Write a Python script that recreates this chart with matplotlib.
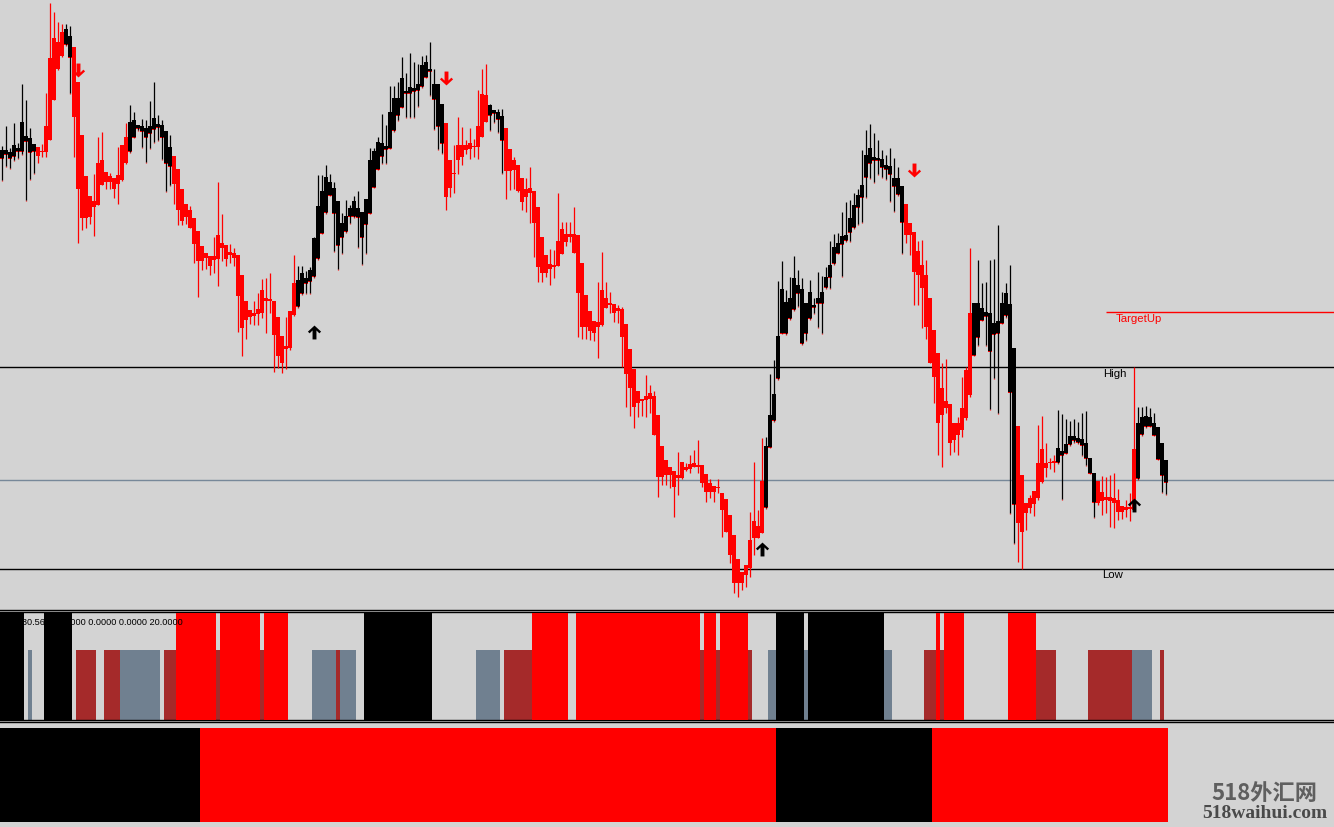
#%%
# Imports
import numpy as np
import matplotlib.pyplot as plt
from matplotlib.path import Path


#%%
# Candle data (price points, one value per bar)

body_hi = [460, 460, 458, 465, 462, 488, 474, 472, 466, 463,
           459, 484, 552, 572, 568, 578, 581, 574, 563, 528,
           475, 434, 414, 409, 447, 450, 438, 434, 432, 435,
           465, 473, 488, 490, 485, 484, 482, 484, 492, 486,
           485, 479, 463, 454, 441, 421, 406, 400, 392, 379,
           364, 357, 354, 354, 375, 367, 365, 358, 357, 355,
           335, 309, 300, 297, 301, 320, 312, 311, 309, 293,
           274, 264, 299, 327, 330, 337, 332, 340, 372, 404,
           419, 433, 428, 422, 409, 387, 394, 402, 409, 402,
           398, 411, 450, 459, 468, 467, 464, 498, 512, 512,
           532, 519, 523, 522, 526, 545, 548, 541, 526, 526,
           506, 487, 450, 437, 465, 465, 465, 467, 464, 484,
           516, 515, 505, 500, 498, 494, 482, 461, 450, 445,
           432, 421, 422, 419, 403, 373, 355, 346, 345, 369,
           381, 376, 376, 376, 375, 347, 315, 299, 289, 288,
           320, 312, 307, 306, 302, 301, 286, 261, 241, 219,
           211, 214, 217, 214, 195, 164, 150, 143, 139, 135,
           148, 143, 146, 147, 145, 145, 136, 127, 124, 123,
           117, 111, 95, 75, 51, 38, 45, 70, 89, 84,
           129, 164, 195, 216, 274, 321, 308, 312, 332, 325,
           321, 307, 318, 305, 312, 318, 333, 345, 363, 367,
           374, 375, 392, 405, 415, 425, 455, 462, 453, 452,
           451, 445, 444, 432, 432, 424, 406, 387, 378, 359,
           345, 335, 312, 280, 257, 222, 209, 206, 187, 187,
           202, 240, 297, 307, 307, 302, 298, 297, 287, 289,
           307, 317, 306, 262, 184, 135, 107, 112, 119, 147,
           161, 147, 148, 149, 162, 159, 166, 174, 174, 172,
           171, 167, 152, 137, 129, 118, 113, 113, 112, 110,
           104, 103, 103, 161, 187, 193, 194, 193, 187, 183,
           167, 150]

body_lo = [452, 456, 452, 454, 459, 459, 469, 458, 459, 454,
           458, 458, 470, 510, 541, 554, 566, 553, 493, 421,
           392, 392, 393, 403, 405, 425, 428, 428, 421, 426,
           430, 447, 459, 473, 482, 479, 473, 477, 481, 483,
           473, 447, 444, 426, 400, 389, 393, 382, 366, 349,
           349, 352, 344, 350, 351, 362, 351, 355, 352, 314,
           282, 290, 293, 294, 296, 297, 309, 309, 275, 254,
           247, 261, 262, 295, 304, 317, 327, 329, 334, 352,
           377, 398, 415, 397, 365, 373, 379, 394, 394, 393,
           373, 386, 397, 423, 441, 454, 461, 462, 480, 495,
           503, 517, 517, 519, 520, 524, 533, 539, 511, 484,
           467, 413, 422, 436, 450, 453, 460, 461, 463, 463,
           473, 488, 495, 497, 491, 470, 439, 439, 440, 419,
           408, 413, 417, 387, 343, 337, 337, 341, 343, 344,
           356, 368, 373, 357, 317, 283, 283, 279, 277, 283,
           285, 302, 305, 297, 299, 273, 236, 222, 203, 207,
           209, 210, 211, 175, 133, 133, 135, 135, 123, 132,
           132, 140, 141, 143, 143, 127, 118, 118, 118, 122,
           100, 78, 55, 27, 27, 27, 35, 42, 72, 72,
           77, 103, 163, 190, 232, 277, 277, 292, 301, 317,
           267, 277, 292, 303, 307, 307, 323, 333, 347, 357,
           366, 370, 378, 383, 403, 413, 433, 447, 450, 450,
           443, 441, 436, 424, 416, 388, 375, 375, 338, 335,
           322, 283, 247, 233, 187, 195, 202, 167, 170, 175,
           180, 192, 215, 255, 273, 290, 294, 259, 276, 277,
           287, 295, 218, 106, 87, 78, 97, 102, 106, 112,
           128, 142, 147, 147, 148, 155, 157, 166, 170, 168,
           165, 152, 137, 108, 107, 109, 110, 109, 107, 98,
           98, 100, 101, 100, 132, 176, 184, 184, 175, 151,
           135, 128]

high = [464, 484, 462, 487, 467, 526, 510, 482, 466, 463,
        466, 517, 607, 598, 588, 586, 586, 584, 563, 528,
        475, 434, 414, 436, 473, 478, 438, 437, 432, 463,
        465, 487, 505, 498, 485, 491, 490, 509, 528, 495,
        490, 479, 475, 454, 441, 421, 406, 404, 392, 379,
        364, 357, 354, 373, 428, 396, 365, 366, 362, 355,
        335, 309, 300, 309, 317, 331, 332, 337, 309, 293,
        274, 293, 299, 355, 344, 344, 339, 343, 373, 435,
        435, 445, 436, 428, 409, 397, 410, 405, 414, 419,
        398, 411, 462, 462, 473, 496, 485, 524, 524, 528,
        553, 537, 557, 548, 546, 554, 555, 568, 541, 526,
        506, 487, 450, 465, 493, 483, 470, 482, 471, 520,
        541, 546, 506, 500, 501, 501, 482, 461, 453, 445,
        432, 432, 443, 419, 403, 373, 355, 361, 360, 417,
        388, 388, 388, 403, 375, 347, 315, 299, 289, 328,
        358, 328, 318, 306, 305, 303, 286, 261, 241, 219,
        211, 235, 225, 219, 195, 164, 150, 143, 139, 158,
        148, 147, 155, 160, 170, 145, 136, 131, 124, 131,
        117, 111, 95, 75, 51, 38, 45, 98, 148, 100,
        172, 173, 236, 250, 329, 349, 320, 333, 354, 340,
        332, 307, 330, 312, 338, 334, 343, 369, 376, 377,
        398, 408, 410, 417, 421, 460, 480, 486, 477, 470,
        460, 455, 462, 452, 443, 424, 406, 387, 378, 369,
        370, 350, 312, 280, 257, 247, 251, 206, 187, 193,
        233, 243, 362, 307, 350, 327, 328, 350, 351, 385,
        318, 327, 345, 262, 184, 135, 107, 115, 119, 185,
        194, 167, 152, 155, 200, 196, 191, 189, 191, 188,
        197, 199, 152, 137, 129, 134, 133, 135, 137, 121,
        104, 110, 117, 243, 203, 203, 204, 202, 197, 183,
        167, 150]

low = [430, 444, 442, 450, 452, 456, 410, 431, 437, 447,
       453, 453, 470, 510, 540, 553, 565, 517, 453, 367,
       380, 382, 386, 374, 405, 425, 421, 421, 412, 406,
       429, 446, 458, 473, 480, 463, 448, 462, 468, 470,
       451, 419, 425, 406, 385, 385, 386, 382, 347, 313,
       340, 341, 335, 337, 324, 349, 344, 347, 344, 278,
       254, 271, 286, 285, 285, 292, 277, 297, 238, 242,
       237, 241, 260, 294, 303, 316, 317, 317, 333, 351,
       377, 397, 415, 359, 341, 357, 378, 387, 393, 363,
       346, 357, 397, 423, 441, 447, 447, 462, 479, 490,
       503, 493, 493, 493, 504, 523, 533, 515, 481, 461,
       457, 400, 413, 417, 436, 445, 456, 451, 453, 451,
       473, 488, 480, 488, 478, 437, 411, 420, 421, 418,
       400, 398, 387, 353, 328, 328, 333, 325, 332, 344,
       356, 364, 368, 357, 273, 271, 271, 270, 269, 252,
       284, 302, 297, 288, 287, 243, 203, 194, 182, 193,
       194, 193, 197, 175, 113, 125, 125, 122, 93, 115,
       131, 139, 137, 143, 137, 123, 108, 112, 108, 117,
       73, 78, 47, 17, 13, 20, 23, 33, 55, 72,
       77, 102, 163, 189, 231, 277, 276, 291, 300, 304,
       266, 270, 291, 297, 283, 277, 322, 322, 346, 357,
       334, 369, 369, 382, 386, 388, 413, 432, 428, 436,
       433, 431, 409, 399, 415, 357, 367, 355, 305, 305,
       282, 271, 247, 207, 155, 143, 197, 155, 158, 155,
       173, 190, 213, 255, 265, 290, 265, 201, 232, 197,
       287, 293, 97, 67, 48, 41, 80, 97, 94, 110,
       127, 133, 141, 138, 147, 111, 157, 165, 168, 167,
       155, 145, 137, 93, 105, 95, 97, 83, 82, 90,
       91, 93, 89, 100, 131, 175, 183, 184, 175, 151,
       118, 116]

# candle colour state (K = black, R = red), as runs of bars
candle_runs = [('K', 9), ('R', 7), ('K', 2), ('R', 14), ('K', 11), ('R', 31),
               ('K', 37), ('R', 11), ('K', 4), ('R', 65), ('K', 35), ('R', 17),
               ('K', 11), ('R', 10), ('K', 10), ('R', 10), ('K', 8)]

# histogram in the first sub window
# K/R = full bars, B = brown half bars, G = grey half bars, . = empty
hist_runs = [('K', 6), ('.', 1), ('G', 1), ('.', 3), ('K', 7), ('.', 1), ('B', 5),
             ('.', 2), ('B', 4), ('G', 10), ('.', 1), ('B', 3), ('R', 10), ('B', 1),
             ('R', 10), ('B', 1), ('R', 6), ('.', 6), ('G', 6), ('B', 1), ('G', 4),
             ('.', 2), ('K', 17), ('.', 11), ('G', 6), ('.', 1), ('B', 7), ('R', 9),
             ('.', 2), ('R', 31), ('B', 1), ('R', 3), ('B', 1), ('R', 7), ('B', 1),
             ('.', 4), ('G', 2), ('K', 7), ('G', 1), ('K', 19), ('G', 2), ('.', 8),
             ('B', 3), ('R', 1), ('B', 1), ('R', 5), ('.', 11), ('R', 7), ('B', 5),
             ('.', 8), ('B', 11), ('G', 5), ('.', 2), ('B', 1), ('.', 1)]
hist_full = 30.56
hist_half = 20.0

# trend bars in the second sub window
trend_runs = [('K', 50), ('R', 144), ('K', 39), ('R', 59)]

# arrows
signal_bar = [19, 78, 111, 190, 228, 283]
signal_price = [540, 278, 532, 61, 440, 105]
signal_dir = ['down', 'up', 'down', 'up', 'down', 'up']

# levels
level_high = 243
level_mid = 130
level_low = 41
target_up = 298
target_start = 276


#%%
# Helpers

def expand(runs):
    out = []
    for code, n in runs:
        out += [code] * n
    return np.array(out)


colors = {'K': '#000000', 'R': '#FF0000', 'B': '#A52A2A', 'G': '#708090'}
bg = '#D3D3D3'

body_hi = np.array(body_hi, float)
body_lo = np.array(body_lo, float)
high = np.array(high, float)
low = np.array(low, float)
n_bars = len(body_hi)
x = np.arange(n_bars)
state = expand(candle_runs)
hist = expand(hist_runs)
trend = expand(trend_runs)

xlim = (-0.5, 1334 / 4 - 0.5)

# chevron style arrow like the terminal's
up = Path([(0, 1), (0.95, 0.12), (0.7, -0.12), (0.28, 0.3), (0.28, -1),
           (-0.28, -1), (-0.28, 0.3), (-0.7, -0.12), (-0.95, 0.12), (0, 1)],
          closed=True)
down = Path([(px, -py) for px, py in up.vertices], closed=True)


#%%
# Figure

W, H = 1334, 827
fig = plt.figure(figsize=(W / 100, H / 100), dpi=100, facecolor=bg)

ax = fig.add_axes([0, (H - 610) / H, 1, 610 / H], facecolor=bg)
ax_h = fig.add_axes([0, (H - 720) / H, 1, 108 / H], facecolor=bg)
ax_t = fig.add_axes([0, 0, 1, 105 / H], facecolor=bg)

for a in (ax, ax_h, ax_t):
    a.set_xlim(*xlim)
    a.set_xticks([])
    a.set_yticks([])
    for s in a.spines.values():
        s.set_visible(False)
        s.set_linewidth(1.0)
        s.set_color('black')

ax.spines['bottom'].set_visible(True)
ax_h.spines['top'].set_visible(True)
ax_h.spines['bottom'].set_visible(True)
ax_t.spines['top'].set_visible(True)

# main window
ax.set_ylim(0, 610)

ax.axhline(level_high, color='black', lw=1.0, zorder=1)
ax.axhline(level_mid, color='#778899', lw=1.0, zorder=1)
ax.axhline(level_low, color='black', lw=1.0, zorder=1)
ax.hlines(target_up, target_start, xlim[1], color='#FF0000', lw=1.0, zorder=1)

lab = dict(family='Liberation Sans', fontsize=8.2, va='center', ha='left')
ax.text(target_start + 2.5, target_up - 7, 'TargetUp', color='#FF0000', **lab)
ax.text(target_start - 0.7, level_high - 7, 'High', color='black', **lab)
ax.text(target_start - 1.0, level_low - 6, 'Low', color='black', **lab)

is_k = state == 'K'
cols = np.where(is_k, colors['K'], colors['R'])
heights = np.maximum(body_hi - body_lo, 1.0)

# thin red rim under the black candles
ax.bar(x[is_k], heights[is_k] + 1.3, bottom=body_lo[is_k] - 1.3, width=0.9,
       color='#FF0000', linewidth=0, zorder=2)
ax.vlines(x[is_k], low[is_k] - 1.3, low[is_k], color='#FF0000', lw=0.9, zorder=2)

ax.vlines(x, low, high, colors=cols, lw=0.9, zorder=3)
ax.bar(x, heights, bottom=body_lo, width=0.9, color=cols, linewidth=0, zorder=4)

for b, p, d in zip(signal_bar, signal_price, signal_dir):
    c = colors['K'] if d == 'up' else colors['R']
    ax.plot(b, p, marker=up if d == 'up' else down, markersize=10,
            color=c, markeredgewidth=0, zorder=5)

# histogram window
ax_h.set_ylim(0, 30.9)
for code in ['B', 'G']:
    m = hist == code
    ax_h.bar(x[m], hist_half, width=1.0, color=colors[code], linewidth=0,
             antialiased=False, zorder=2)
for code in ['K', 'R']:
    m = hist == code
    ax_h.bar(x[m], hist_full, width=1.0, color=colors[code], linewidth=0,
             antialiased=False, zorder=3)
ax_h.text(183 / W, 0.905, '30.5600 0.0000 0.0000 0.0000 20.0000',
          transform=ax_h.transAxes, family='Liberation Sans', fontsize=6.6,
          ha='right', va='center', zorder=5)

# trend window
ax_t.set_ylim(-5 / 94, 1 + 6 / 94)
for code in ['K', 'R']:
    m = trend == code
    ax_t.bar(x[m], 1.0, width=1.0, color=colors[code], linewidth=0,
             antialiased=False)

# watermark
fig.text(1264 / W, 1 - 793 / H, '518外汇网', family=['Noto Sans CJK SC', 'DejaVu Sans'],
         fontsize=16, fontweight='bold', color='#5f5f5f', ha='center', va='center')
fig.text(1265 / W, 1 - 814 / H, '518waihui.com', family='Liberation Serif',
         fontsize=14, fontweight='bold', color='#4a4a4a', ha='center', va='center')

fig.savefig('out.png', dpi=100, facecolor=bg)
